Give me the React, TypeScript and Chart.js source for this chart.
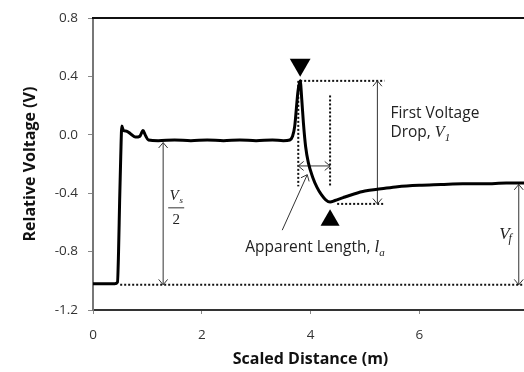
import React, { useEffect, useRef } from "react";
import { Chart, registerables } from "chart.js";

Chart.register(...registerables);

// ---- data ----
const distance = [0, 0.2, 0.4, 0.45, 0.47, 0.49, 0.51, 0.53, 0.56, 0.62, 0.7, 0.78, 0.86, 0.92, 0.96, 1.02, 1.2, 1.5, 1.8, 2.1, 2.4, 2.7, 3.0, 3.3, 3.5, 3.62, 3.67, 3.71, 3.74, 3.77, 3.81, 3.84, 3.87, 3.91, 3.96, 4.04, 4.12, 4.2, 4.28, 4.36, 4.45, 4.6, 4.8, 5.0, 5.3, 5.6, 6.0, 6.4, 6.8, 7.2, 7.6, 8.0];
const voltage = [-1.02, -1.02, -1.02, -1.01, -0.8, -0.45, -0.15, 0.06, 0.03, 0.025, 0.005, -0.015, -0.01, 0.03, 0.0, -0.035, -0.04, -0.035, -0.04, -0.035, -0.04, -0.035, -0.04, -0.035, -0.04, -0.035, -0.01, 0.06, 0.18, 0.3, 0.37, 0.24, 0.08, -0.08, -0.19, -0.29, -0.36, -0.41, -0.445, -0.46, -0.45, -0.43, -0.405, -0.385, -0.37, -0.355, -0.345, -0.34, -0.335, -0.335, -0.33, -0.33];

const xTickValues = [0, 2, 4, 6];
const yTickValues = [-1.2, -0.8, -0.4, 0.0, 0.4, 0.8];

const peakMarker = [{ x: 3.81, y: 0.48 }];
const troughMarker = [{ x: 4.36, y: -0.585 }];

// annotation anchors (data units)
const peakPoint = { x: 3.81, y: 0.37 };
const troughY = -0.473;
const troughDotStartX = 4.49;
const dropArrowX = 5.23;
const dropDotEndX = 5.36;
const lengthLeftX = 3.775;
const lengthRightX = 4.36;
const lengthArrowY = -0.213;
const lengthRightTopY = 0.27;
const lengthDotBottomY = -0.353;
const baseY = -1.027;
const baseStartX = 0.5;
const flatY = -0.053;
const vsArrowX = 1.29;
const finalY = -0.34;
const vfArrowX = 7.83;
const pointerFrom = { x: 3.48, y: -0.653 };
const pointerTo = { x: 3.94, y: -0.273 };

const SANS = "'Open Sans', Lato, sans-serif";
const SERIF = "'Liberation Serif', 'DejaVu Serif', serif";

const annotationPlugin = {
  id: "tdrAnnotations",
  beforeDatasetsDraw(chart: any) {
    const { ctx, scales } = chart;
    const xs = scales.x;
    const ys = scales.y;
    const px = (v: number) => xs.getPixelForValue(v);
    const py = (v: number) => ys.getPixelForValue(v);

    const dotted = (x1: number, y1: number, x2: number, y2: number) => {
      ctx.save();
      ctx.setLineDash([2, 2]);
      ctx.lineWidth = 2;
      ctx.strokeStyle = "#111";
      ctx.beginPath();
      ctx.moveTo(px(x1), py(y1));
      ctx.lineTo(px(x2), py(y2));
      ctx.stroke();
      ctx.restore();
    };
    const head = (x1: number, y1: number, x2: number, y2: number, size = 7) => {
      const a = Math.atan2(y2 - y1, x2 - x1);
      const s = Math.PI / 4.5;
      ctx.beginPath();
      ctx.moveTo(x2 - size * Math.cos(a - s), y2 - size * Math.sin(a - s));
      ctx.lineTo(x2, y2);
      ctx.lineTo(x2 - size * Math.cos(a + s), y2 - size * Math.sin(a + s));
      ctx.stroke();
    };
    const arrow = (x1: number, y1: number, x2: number, y2: number, both: boolean) => {
      const X1 = px(x1), Y1 = py(y1), X2 = px(x2), Y2 = py(y2);
      ctx.save();
      ctx.strokeStyle = "#333";
      ctx.lineWidth = 1;
      ctx.beginPath();
      ctx.moveTo(X1, Y1);
      ctx.lineTo(X2, Y2);
      ctx.stroke();
      head(X1, Y1, X2, Y2);
      if (both) head(X2, Y2, X1, Y1);
      ctx.restore();
    };

    // dotted guide lines
    dotted(baseStartX, baseY, 8, baseY);
    dotted(peakPoint.x, peakPoint.y, dropDotEndX, peakPoint.y);
    dotted(troughDotStartX, troughY, dropDotEndX, troughY);
    dotted(lengthLeftX, peakPoint.y, lengthLeftX, lengthDotBottomY);
    dotted(lengthRightX, lengthRightTopY, lengthRightX, lengthDotBottomY);

    // arrows
    arrow(dropArrowX, peakPoint.y, dropArrowX, troughY, true);
    arrow(lengthLeftX, lengthArrowY, lengthRightX, lengthArrowY, true);
    arrow(vsArrowX, flatY, vsArrowX, baseY, true);
    arrow(vfArrowX, finalY, vfArrowX, baseY, true);
    arrow(pointerFrom.x, pointerFrom.y, pointerTo.x, pointerTo.y, false);

    // texts
    ctx.save();
    ctx.fillStyle = "#222";
    ctx.textBaseline = "middle";
    ctx.textAlign = "left";
    ctx.font = `15.5px ${SANS}`;
    const fx = px(5.47);
    ctx.fillText("First Voltage", fx, py(0.147));
    const dropText = "Drop, ";
    ctx.fillText(dropText, fx, py(0.013));
    let w = ctx.measureText(dropText).width;
    ctx.font = `italic 16px ${SERIF}`;
    ctx.fillText("V", fx + w, py(0.013));
    w += ctx.measureText("V").width;
    ctx.font = `italic 11px ${SERIF}`;
    ctx.fillText("1", fx + w, py(0.013) + 5);

    ctx.font = `15.5px ${SANS}`;
    const ax = px(2.8);
    const ay = py(-0.773);
    const at = "Apparent Length, ";
    ctx.fillText(at, ax, ay);
    w = ctx.measureText(at).width;
    ctx.font = `italic 17px ${SERIF}`;
    ctx.fillText("l", ax + w, ay);
    w += ctx.measureText("l").width;
    ctx.font = `italic 11px ${SERIF}`;
    ctx.fillText("a", ax + w, ay + 5);

    // Vs / 2
    const vcx = px(1.53);
    ctx.font = `italic 15px ${SERIF}`;
    ctx.textAlign = "center";
    ctx.fillText("V", vcx - 2, py(-0.42));
    ctx.font = `italic 9px ${SERIF}`;
    ctx.fillText("s", vcx + 5, py(-0.42) + 4);
    ctx.strokeStyle = "#333";
    ctx.lineWidth = 1;
    ctx.beginPath();
    ctx.moveTo(vcx - 8, py(-0.5));
    ctx.lineTo(vcx + 8, py(-0.5));
    ctx.stroke();
    ctx.font = `15px ${SERIF}`;
    ctx.fillText("2", vcx, py(-0.587));

    // Vf
    ctx.textAlign = "left";
    const vfx = px(7.47);
    ctx.font = `italic 17px ${SERIF}`;
    ctx.fillText("V", vfx, py(-0.68));
    w = ctx.measureText("V").width;
    ctx.font = `italic 12px ${SERIF}`;
    ctx.fillText("f", vfx + w - 1, py(-0.68) + 5);
    ctx.restore();
  },
  afterDraw(chart: any) {
    const { ctx, chartArea } = chart;
    ctx.save();
    ctx.strokeStyle = "#111";
    ctx.lineWidth = 2;
    ctx.beginPath();
    ctx.moveTo(chartArea.left - 1, chartArea.top);
    ctx.lineTo(chartArea.right + 20, chartArea.top);
    ctx.stroke();
    ctx.restore();
  },
};

export default function App() {
  const canvasRef = useRef<HTMLCanvasElement | null>(null);

  useEffect(() => {
    if (!canvasRef.current) return;
    const chart = new Chart(canvasRef.current, {
      type: "line",
      data: {
        datasets: [
          {
            data: distance.map((d, i) => ({ x: d, y: voltage[i] })),
            borderColor: "#000",
            borderWidth: 3,
            pointRadius: 0,
            borderJoinStyle: "round",
            borderCapStyle: "round",
            cubicInterpolationMode: "monotone",
            fill: false,
          },
          {
            data: peakMarker,
            showLine: false,
            pointStyle: "triangle",
            rotation: 180,
            pointRadius: 12,
            backgroundColor: "#000",
            borderColor: "#000",
            borderWidth: 0,
          },
          {
            data: troughMarker,
            showLine: false,
            pointStyle: "triangle",
            pointRadius: 11,
            backgroundColor: "#000",
            borderColor: "#000",
            borderWidth: 0,
          },
        ],
      } as any,
      options: {
        responsive: false,
        animation: false,
        events: [],
        layout: { padding: { top: 10, right: 10, bottom: 0, left: 0 } },
        plugins: {
          legend: { display: false },
          tooltip: { enabled: false },
        },
        scales: {
          x: {
            type: "linear",
            min: 0,
            max: 8,
            afterFit: (s: any) => {
              s.height = 62;
            },
            afterBuildTicks: (s: any) => {
              s.ticks = xTickValues.map((v) => ({ value: v }));
            },
            ticks: {
              color: "#333",
              font: { family: SANS, size: 13.5 },
              padding: 13,
              maxRotation: 0,
              callback: (v: any) => String(v),
            },
            grid: {
              drawOnChartArea: false,
              drawTicks: true,
              tickLength: 4,
              color: "#888",
            },
            border: { display: true, color: "#333", width: 2 },
            title: {
              display: true,
              text: "Scaled Distance (m)",
              color: "#111",
              font: { family: SANS, size: 16, weight: "bold" },
              padding: { top: 0, bottom: 3 },
            },
          },
          y: {
            type: "linear",
            min: -1.2,
            max: 0.8,
            afterFit: (s: any) => {
              s.width = 93;
            },
            afterBuildTicks: (s: any) => {
              s.ticks = yTickValues.map((v) => ({ value: v }));
            },
            ticks: {
              color: "#333",
              font: { family: SANS, size: 13.5 },
              padding: 10,
              callback: (v: any) => Number(v).toFixed(1),
            },
            grid: {
              drawOnChartArea: false,
              drawTicks: true,
              tickLength: 5,
              color: "#888",
            },
            border: { display: true, color: "#777", width: 2 },
            title: {
              display: true,
              text: "Relative Voltage (V)",
              color: "#111",
              font: { family: SANS, size: 16, weight: "bold" },
              padding: { top: 21, bottom: 0 },
            },
          },
        },
      } as any,
      plugins: [annotationPlugin],
    });
    return () => chart.destroy();
  }, []);

  return (
    <div
      style={{
        position: "fixed",
        left: 0,
        top: 0,
        width: 524,
        height: 372,
        overflow: "hidden",
        background: "#fff",
      }}
    >
      <canvas ref={canvasRef} width={540} height={372} style={{ display: "block", width: 540, height: 372 }} />
    </div>
  );
}
